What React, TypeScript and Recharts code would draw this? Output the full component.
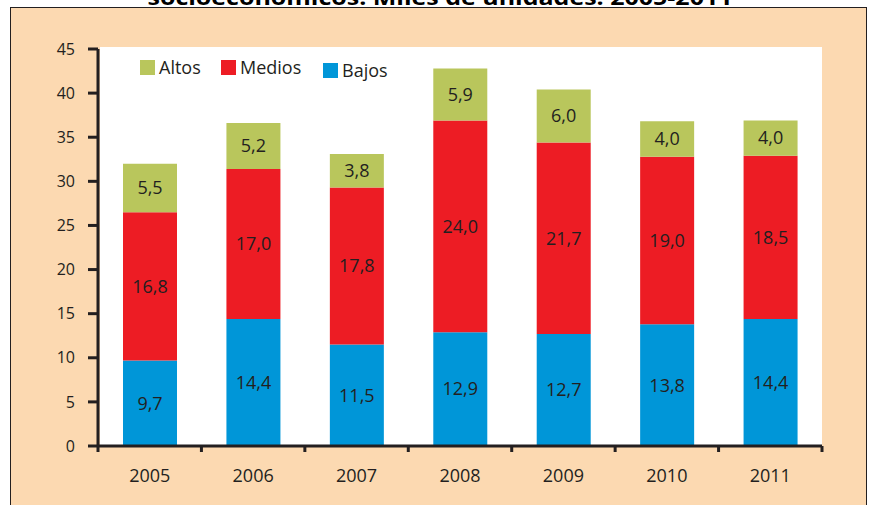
import React from 'react';
import { BarChart, Bar, XAxis, YAxis, LabelList } from 'recharts';

const categories = ['2005', '2006', '2007', '2008', '2009', '2010', '2011'];
const bajos = [9.7, 14.4, 11.5, 12.9, 12.7, 13.8, 14.4];
const medios = [16.8, 17.0, 17.8, 24.0, 21.7, 19.0, 18.5];
const altos = [5.5, 5.2, 3.8, 5.9, 6.0, 4.0, 4.0];
const yTicks = [0, 5, 10, 15, 20, 25, 30, 35, 40, 45];
const seriesNames = { altos: 'Altos', medios: 'Medios', bajos: 'Bajos' };
const titleText = 'socioeconómicos. Miles de unidades. 2005-2011';

const COLORS = { altos: '#B9C65C', medios: '#ED1C24', bajos: '#0096D8' };
const INK = '#231F20';
const FONT = '"Open Sans", "Noto Sans", sans-serif';

const data = categories.map((c, i) => ({
  pos: i + 0.5,
  name: c,
  bajos: bajos[i],
  medios: medios[i],
  altos: altos[i],
}));

const xTicks: number[] = [];
for (let i = 0; i <= categories.length * 2; i++) xTicks.push(i / 2);

const fmt = (v: any) => Number(v).toFixed(1).replace('.', ',');

const XTick = (props: any) => {
  const { x, y, payload } = props;
  const v = payload.value;
  if (Number.isInteger(v)) {
    return <line x1={x} x2={x} y1={y} y2={y + 6} stroke={INK} strokeWidth={3} />;
  }
  return (
    <text x={x} y={y + 36} textAnchor="middle" fill={INK} fontSize={18} fontFamily={FONT}>
      {categories[Math.floor(v)]}
    </text>
  );
};

const legendItems: { key: 'altos' | 'medios' | 'bajos'; left: number; top: number }[] = [
  { key: 'altos', left: 140, top: 60 },
  { key: 'medios', left: 221, top: 60 },
  { key: 'bajos', left: 323, top: 63 },
];

export default function App() {
  return (
    <div style={{ position: 'absolute', left: 0, top: 0, width: 871, height: 505, overflow: 'hidden', background: '#fff' }}>
      <div
        style={{
          position: 'absolute',
          left: 10,
          top: 7,
          width: 857,
          height: 510,
          background: '#FCD9B1',
          border: `1.5px solid ${INK}`,
          boxSizing: 'border-box',
        }}
      />
      <div style={{ position: 'absolute', left: 100, top: 47, width: 722, height: 399, background: '#fff' }} />
      <svg width={871} height={20} style={{ position: 'absolute', left: 0, top: 0 }}>
        <text x={440} y={5} textAnchor="middle" fontSize={22} fontWeight="bold" fill="#000" fontFamily={FONT} textLength={585} lengthAdjust="spacingAndGlyphs">
          {titleText}
        </text>
      </svg>
      {legendItems.map((it) => (
        <div key={it.key} style={{ position: 'absolute', left: it.left, top: it.top, display: 'flex', alignItems: 'center', fontFamily: FONT, fontSize: 18, color: INK, lineHeight: '15px' }}>
          <span style={{ display: 'inline-block', width: 15, height: 15, background: COLORS[it.key], marginRight: 4 }} />
          <span>{seriesNames[it.key]}</span>
        </div>
      ))}
      <div style={{ position: 'absolute', left: 0, top: 0 }}>
        <BarChart width={871} height={505} data={data} margin={{ top: 49, right: 49, bottom: 29, left: 0 }}>
          <XAxis
            dataKey="pos"
            type="number"
            domain={[0, categories.length]}
            ticks={xTicks}
            interval={0}
            allowDecimals
            tickLine={false}
            tickSize={0}
            tickMargin={0}
            axisLine={{ stroke: INK, strokeWidth: 3 }}
            tick={<XTick />}
            height={30}
          />
          <YAxis
            type="number"
            domain={[0, 45]}
            ticks={yTicks}
            interval={0}
            width={98}
            tickSize={10}
            tickMargin={13}
            tickLine={{ stroke: INK, strokeWidth: 3 }}
            axisLine={{ stroke: INK, strokeWidth: 3 }}
            tick={{ fill: INK, fontSize: 16, fontFamily: FONT }}
          />
          <Bar dataKey="bajos" stackId="a" fill={COLORS.bajos} barSize={54} isAnimationActive={false}>
            <LabelList dataKey="bajos" position="center" formatter={fmt} fill={INK} fontSize={18} fontFamily={FONT} />
          </Bar>
          <Bar dataKey="medios" stackId="a" fill={COLORS.medios} barSize={54} isAnimationActive={false}>
            <LabelList dataKey="medios" position="center" formatter={fmt} fill={INK} fontSize={18} fontFamily={FONT} />
          </Bar>
          <Bar dataKey="altos" stackId="a" fill={COLORS.altos} barSize={54} isAnimationActive={false}>
            <LabelList dataKey="altos" position="center" formatter={fmt} fill={INK} fontSize={18} fontFamily={FONT} />
          </Bar>
        </BarChart>
      </div>
    </div>
  );
}
